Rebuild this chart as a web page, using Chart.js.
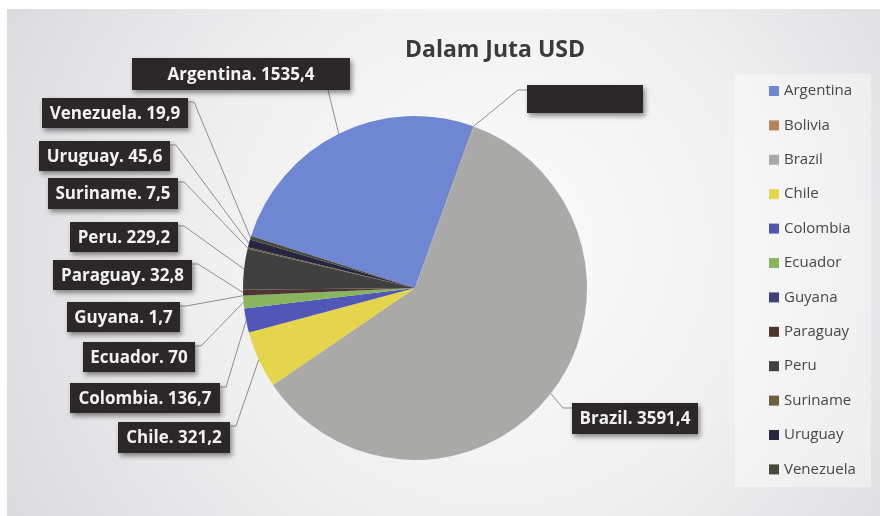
<!DOCTYPE html>
<html>
<head>
<meta charset="utf-8">
<script src="https://cdn.jsdelivr.net/npm/chart.js@4.4.0/dist/chart.umd.min.js"></script>
<style>
  html, body { margin: 0; padding: 0; background: #fff; }
  canvas { display: block; }
</style>
</head>
<body>
<canvas id="pie" width="880" height="516"></canvas>
<script>
// Ekspor per negara Amerika Selatan, dalam juta USD
const countries = ["Argentina", "Bolivia", "Brazil", "Chile", "Colombia", "Ecuador", "Guyana", "Paraguay", "Peru", "Suriname", "Uruguay", "Venezuela"];
const values = [1535.4, 4, 3591.4, 321.2, 136.7, 70, 1.7, 32.8, 229.2, 7.5, 45.6, 19.9];
const hiddenLabels = ["Bolivia"];
const sliceColors = ["#6f87d3", "#b5835e", "#a9a9a7", "#e4d54a", "#5057b6", "#88b55d", "#3d3f7e", "#4e3531", "#404040", "#6d5e3d", "#27253f", "#464a3a"];

// kotak label: x, y, lebar, tinggi, sisi tempat garis penunjuk keluar
const labelBoxes = {
    Argentina: [132, 58, 218, 32, "bottom"],
    Bolivia:   [527, 85, 116, 28, "left"],
    Brazil:    [572, 403, 126, 31, "left"],
    Chile:     [118, 422, 112, 31, "right"],
    Colombia:  [70, 383, 150, 30, "right"],
    Ecuador:   [83, 342, 112, 30, "right"],
    Guyana:    [67, 302, 113, 30, "right"],
    Paraguay:  [53, 260, 139, 30, "right"],
    Peru:      [70, 222, 108, 30, "right"],
    Suriname:  [48, 178, 130, 31, "right"],
    Uruguay:   [39, 141, 131, 30, "right"],
    Venezuela: [42, 98, 146, 30, "right"]
};

const fmt = v => String(v).replace(".", ",");

const backdrop = {
    id: "backdrop",
    beforeDraw(chart) {
        const ctx = chart.ctx;
        ctx.save();
        ctx.fillStyle = "#ffffff";
        ctx.fillRect(0, 0, 880, 516);
        const g = ctx.createRadialGradient(500, 240, 40, 480, 260, 560);
        g.addColorStop(0, "#fafafa");
        g.addColorStop(0.45, "#f0f0f1");
        g.addColorStop(1, "#d9d9dd");
        ctx.fillStyle = g;
        ctx.fillRect(7, 9, 873, 507);
        ctx.fillStyle = "rgba(255,255,255,0.4)";
        ctx.fillRect(735, 74, 136, 413);
        ctx.restore();
    }
};

const calloutLabels = {
    id: "calloutLabels",
    afterDraw(chart) {
        const ctx = chart.ctx;
        const arcs = chart.getDatasetMeta(0).data;
        ctx.save();

        // judul
        ctx.fillStyle = "#3a3a3a";
        ctx.font = "bold 23px 'Open Sans'";
        ctx.textAlign = "center";
        ctx.textBaseline = "alphabetic";
        ctx.fillText("Dalam Juta USD", 495, 57);

        // garis penunjuk
        ctx.strokeStyle = "#8e8e8e";
        ctx.lineWidth = 1;
        countries.forEach((name, i) => {
            const [bx, by, bw, bh, side] = labelBoxes[name];
            const a = arcs[i];
            const mid = (a.startAngle + a.endAngle) / 2;
            const px = a.x + a.outerRadius * Math.cos(mid);
            const py = a.y + a.outerRadius * Math.sin(mid);
            ctx.beginPath();
            if (side === "bottom") {
                ctx.moveTo(bx + bw - 22, by + bh);
            } else if (side === "left") {
                ctx.moveTo(bx, by + 5);
                ctx.lineTo(bx - 9, by + 5);
            } else {
                ctx.moveTo(bx + bw, by + 4);
                ctx.lineTo(bx + bw + 6, by + 4);
            }
            ctx.lineTo(px, py);
            ctx.stroke();
        });

        // kotak label dengan bayangan
        countries.forEach((name, i) => {
            const [bx, by, bw, bh] = labelBoxes[name];
            ctx.save();
            ctx.shadowColor = "rgba(0,0,0,0.45)";
            ctx.shadowBlur = 5;
            ctx.shadowOffsetX = 2;
            ctx.shadowOffsetY = 3;
            ctx.fillStyle = "#2c2729";
            ctx.fillRect(bx, by, bw, bh);
            ctx.restore();
            if (hiddenLabels.includes(name)) return;
            ctx.fillStyle = "#f2f2f2";
            ctx.font = "bold 17px 'Open Sans'";
            ctx.textAlign = "center";
            ctx.textBaseline = "middle";
            ctx.fillText(name + ". " + fmt(values[i]), bx + bw / 2, by + bh / 2 + 1);
        });

        // legenda
        ctx.font = "15px 'Open Sans'";
        ctx.textAlign = "left";
        ctx.textBaseline = "middle";
        countries.forEach((name, i) => {
            const y = 91 + i * 34.4;
            ctx.fillStyle = sliceColors[i];
            ctx.fillRect(769, y - 5, 10, 10);
            ctx.fillStyle = "#474747";
            ctx.fillText(name, 784, y);
        });
        ctx.restore();
    }
};

new Chart(document.getElementById("pie"), {
    type: "pie",
    data: {
        labels: countries,
        datasets: [{
            data: values,
            backgroundColor: sliceColors,
            borderWidth: 0
        }]
    },
    options: {
        responsive: false,
        animation: false,
        rotation: -72.4,
        layout: { padding: { top: 116, bottom: 56, left: 243, right: 293 } },
        plugins: {
            legend: { display: false },
            title: { display: false },
            tooltip: { enabled: false }
        }
    },
    plugins: [backdrop, calloutLabels]
});
</script>
</body>
</html>
